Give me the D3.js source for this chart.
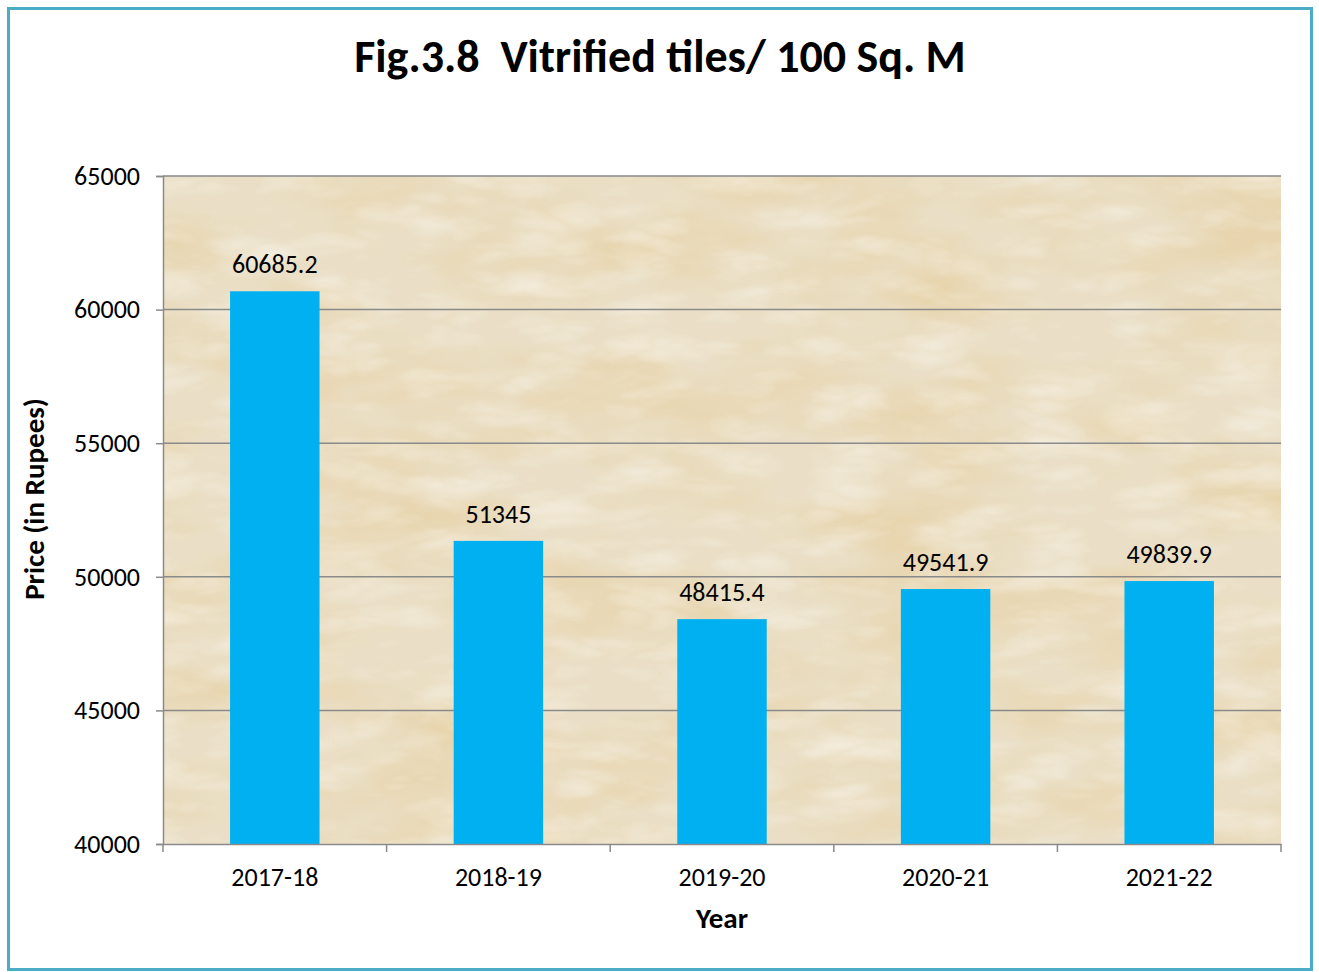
<!DOCTYPE html>
<html><head><meta charset="utf-8">
<script src="https://cdn.jsdelivr.net/npm/d3@7"></script>
<style>
html,body{margin:0;padding:0;background:#fff;}
svg{display:block;}
text{font-family:Carlito,"Open Sans","Noto Sans",sans-serif;}
</style></head>
<body>
<svg id="c" width="1319" height="972"></svg>
<script>
const categories = ["2017-18","2018-19","2019-20","2020-21","2021-22"];
const values = [60685.2, 51345, 48415.4, 49541.9, 49839.9];
const valueLabels = ["60685.2","51345","48415.4","49541.9","49839.9"];
const yTicks = [40000,45000,50000,55000,60000,65000];
const titleText = "Fig.3.8  Vitrified tiles/ 100 Sq. M";
const xTitle = "Year";
const yTitle = "Price (in Rupees)";

const svg = d3.select("#c");
const m = {left:163, right:1281, top:176, bottom:844};

// frame
svg.append("rect").attr("x",8.5).attr("y",8.5).attr("width",1303).attr("height",961)
  .attr("fill","#fff").attr("stroke","#4bacc6").attr("stroke-width",3);

const defs = svg.append("defs");
const f = defs.append("filter").attr("id","marble").attr("x",0).attr("y",0).attr("width","100%").attr("height","100%");
f.append("feTurbulence").attr("type","fractalNoise").attr("baseFrequency","0.006 0.014").attr("numOctaves",4).attr("seed",7).attr("result","n");
f.append("feColorMatrix").attr("in","n").attr("type","matrix")
  .attr("values","0 0 0 0 0.80  0 0 0 0 0.64  0 0 0 0 0.38  1.8 0 0 0 -0.70")
  .attr("result","c");
f.append("feComposite").attr("in","c").attr("in2","SourceGraphic").attr("operator","in");
const f2 = defs.append("filter").attr("id","marble2").attr("x",0).attr("y",0).attr("width","100%").attr("height","100%");
f2.append("feTurbulence").attr("type","turbulence").attr("baseFrequency","0.01 0.03").attr("numOctaves",3).attr("seed",3).attr("result","n");
f2.append("feColorMatrix").attr("in","n").attr("type","matrix")
  .attr("values","0 0 0 0 0.97  0 0 0 0 0.95  0 0 0 0 0.90  0 0 1.4 0 -0.35")
  .attr("result","c");
f2.append("feComposite").attr("in","c").attr("in2","SourceGraphic").attr("operator","in");

const x = d3.scaleBand().domain(categories).range([m.left,m.right]).paddingInner(0.6).paddingOuter(0.3);
const xb = d3.scaleBand().domain(categories).range([m.left,m.right]);
const y = d3.scaleLinear().domain([40000,65000]).range([m.bottom,m.top]);

// plot background
svg.append("rect").attr("x",m.left).attr("y",m.top).attr("width",m.right-m.left).attr("height",m.bottom-m.top).attr("fill","#eadfc6");
svg.append("rect").attr("x",m.left).attr("y",m.top).attr("width",m.right-m.left).attr("height",m.bottom-m.top).attr("fill","#eadfc6").attr("filter","url(#marble)");
svg.append("rect").attr("x",m.left).attr("y",m.top).attr("width",m.right-m.left).attr("height",m.bottom-m.top).attr("fill","#fff").attr("filter","url(#marble2)").attr("opacity",0.6);

// gridlines
svg.append("g").selectAll("line").data(yTicks.slice(1)).join("line")
  .attr("x1",m.left).attr("x2",m.right).attr("y1",d=>y(d)).attr("y2",d=>y(d))
  .attr("stroke","#8a8a8a").attr("stroke-width",1.5);

// bars
svg.append("g").selectAll("rect").data(values).join("rect")
  .attr("x",(d,i)=>x(categories[i])).attr("width",x.bandwidth())
  .attr("y",d=>y(d)).attr("height",d=>y(40000)-y(d)).attr("fill","#00b0f0");

// value labels
svg.append("g").selectAll("text").data(values).join("text")
  .attr("x",(d,i)=>x(categories[i])+x.bandwidth()/2).attr("y",d=>y(d)-18)
  .attr("text-anchor","middle").attr("font-size",26).attr("fill","#000")
  .text((d,i)=>valueLabels[i]);

// y axis
const ya = svg.append("g").attr("transform",`translate(${m.left},0)`)
  .call(d3.axisLeft(y).tickValues(yTicks).tickSize(7).tickPadding(16).tickFormat(d3.format("d")));
ya.select(".domain").attr("stroke","#8a8a8a").attr("stroke-width",1.5);
ya.selectAll(".tick line").attr("stroke","#8a8a8a").attr("stroke-width",1.5);
ya.selectAll("text").attr("font-size",26).attr("fill","#000").attr("font-family",null);

// x axis
const xa = svg.append("g").attr("transform",`translate(0,${m.bottom})`)
  .call(d3.axisBottom(xb).tickSize(0).tickPadding(24));
xa.select(".domain").attr("stroke","#8a8a8a").attr("stroke-width",1.5);
xa.selectAll("text").attr("font-size",26).attr("fill","#000").attr("font-family",null);
svg.append("g").selectAll("line").data(d3.range(categories.length+1)).join("line")
  .attr("x1",i=>m.left+i*xb.step()).attr("x2",i=>m.left+i*xb.step())
  .attr("y1",m.bottom).attr("y2",m.bottom+8).attr("stroke","#8a8a8a").attr("stroke-width",1.5);

// titles
svg.append("text").attr("x",660).attr("y",72).attr("text-anchor","middle")
  .attr("font-size",46).attr("font-weight","bold").attr("fill","#000")
  .attr("xml:space","preserve").style("white-space","pre").text(titleText);
svg.append("text").attr("x",722).attr("y",928).attr("text-anchor","middle")
  .attr("font-size",29).attr("font-weight","bold").attr("fill","#000").text(xTitle);
svg.append("text").attr("transform","translate(44,499) rotate(-90)").attr("text-anchor","middle")
  .attr("font-size",29).attr("font-weight","bold").attr("fill","#000").text(yTitle);
</script>
</body></html>
